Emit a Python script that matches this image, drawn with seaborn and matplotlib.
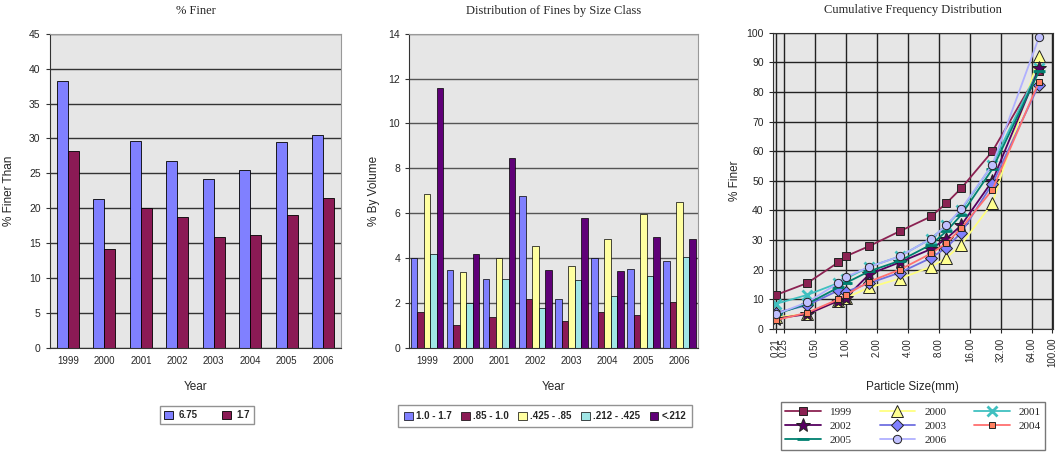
import numpy as np
import pandas as pd
import seaborn as sns
import matplotlib.pyplot as plt
from matplotlib.ticker import FixedLocator, NullLocator

# --- data ---
years = ['1999', '2000', '2001', '2002', '2003', '2004', '2005', '2006']

# % finer than 6.75 mm and 1.7 mm
finer_675 = [38.3, 21.3, 29.6, 26.8, 24.2, 25.5, 29.5, 30.5]
finer_17 = [28.2, 14.2, 20.0, 18.7, 15.9, 16.2, 19.0, 21.4]

# % by volume per size class
size_classes = ['1.0 - 1.7', '.85 - 1.0', '.425 - .85', '.212 - .425', '<.212']
vol_10_17 = [4.0, 3.47, 3.05, 6.78, 2.18, 4.02, 3.53, 3.86]
vol_085_10 = [1.58, 1.04, 1.36, 2.18, 1.2, 1.58, 1.46, 2.03]
vol_0425_085 = [6.87, 3.37, 4.02, 4.56, 3.64, 4.84, 5.96, 6.5]
vol_0212_0425 = [4.19, 2.01, 3.08, 1.76, 3.02, 2.31, 3.2, 4.07]
vol_lt0212 = [11.6, 4.19, 8.48, 3.47, 5.81, 3.43, 4.96, 4.87]

# cumulative frequency (% finer) per sieve size (mm)
sieve_mm = [0.212, 0.425, 0.85, 1.0, 1.7, 3.35, 6.75, 9.5, 13.2, 26.5, 75]
cum_1999 = [11.5, 15.5, 22.5, 24.5, 28, 33, 38, 42.5, 47.5, 60, 87]
cum_2000 = [4, 5, 9.5, 10.5, 14, 17, 21, 24, 28.5, 42.5, 92]
cum_2001 = [8.5, 11.5, 15.5, 17, 21, 24.5, 30.5, 35, 40, 55.5, 88]
cum_2002 = [3.5, 5, 9.5, 10.5, 18.5, 22.5, 27, 30.5, 35, 50, 88]
cum_2003 = [5.5, 8, 13, 12.5, 15.5, 19, 24, 27.5, 32.5, 49, 82.5]
cum_2004 = [3, 5.5, 10, 11.5, 16, 20, 25.5, 29, 34, 47, 83.5]
cum_2005 = [5, 8.5, 14, 15.5, 19.5, 23, 28.5, 33, 38.5, 54, 87]
cum_2006 = [5, 9, 15.5, 17.5, 21, 24.5, 30.5, 35, 40.5, 55.5, 98.5]

x_ticks = [0.21, 0.25, 0.5, 1, 2, 4, 8, 16, 32, 64, 100]

sns.set_style('white')
plt.rcParams['font.family'] = ['Liberation Sans', 'DejaVu Sans']

fig = plt.figure(figsize=(10.57, 4.62), dpi=100)
ax1 = fig.add_axes([0.047, 0.247, 0.276, 0.680])
ax2 = fig.add_axes([0.387, 0.247, 0.273, 0.680])
ax3 = fig.add_axes([0.731, 0.288, 0.265, 0.641])

plot_bg = '#e6e6e6'
title_font = dict(family='Liberation Serif', fontsize=9)


def style_bar_axes(ax, ymax, step, grid_color):
    ax.set_facecolor(plot_bg)
    ax.set_axisbelow(True)
    ax.set_ylim(0, ymax)
    ax.set_yticks(np.arange(0, ymax + 0.01, step))
    ax.yaxis.grid(True, color=grid_color, linewidth=1)
    ax.set_xlim(-0.5, len(years) - 0.5)
    ax.xaxis.set_minor_locator(FixedLocator(np.arange(-0.5, len(years), 1)))
    ax.tick_params(axis='x', which='major', length=0, labelsize=7, pad=6)
    ax.tick_params(axis='x', which='minor', length=3, color='#333333', direction='out')
    ax.tick_params(axis='y', length=3, labelsize=7.5, direction='out', color='#333333')
    ax.tick_params(axis='both', bottom=True, left=True)
    for side in ['top', 'right']:
        ax.spines[side].set_color('#999999')
    for side in ['left', 'bottom']:
        ax.spines[side].set_color('#333333')
    ax.set_xlabel('Year', fontsize=8.5, labelpad=11)


# --- 1. % Finer ---
df1 = pd.DataFrame({
    'Year': years * 2,
    'value': finer_675 + finer_17,
    'series': ['6.75'] * len(years) + ['1.7'] * len(years),
})
sns.barplot(data=df1, x='Year', y='value', hue='series', order=years,
            palette=['#8080ff', '#8b1a55'], width=0.6, edgecolor='black',
            linewidth=0.6, saturation=1, ax=ax1)
style_bar_axes(ax1, 45, 5, '#333333')
ax1.set_ylabel('% Finer Than', fontsize=8.5, labelpad=10)
ax1.set_title('% Finer', pad=14, **title_font)
h, l = ax1.get_legend_handles_labels()
ax1.get_legend().remove()
fig.legend(h, l, loc='center', bbox_to_anchor=(207 / 1057, 1 - 415 / 462), ncol=2,
           prop={'weight': 'bold', 'size': 7}, frameon=True, fancybox=False,
           edgecolor='#777777', handlelength=0.9, handleheight=0.9, columnspacing=2.5,
           handletextpad=0.6, borderpad=0.45)

# --- 2. Distribution of fines by size class ---
vols = [vol_10_17, vol_085_10, vol_0425_085, vol_0212_0425, vol_lt0212]
df2 = pd.DataFrame({
    'Year': years * len(size_classes),
    'value': sum(vols, []),
    'series': [c for c in size_classes for _ in years],
})
sns.barplot(data=df2, x='Year', y='value', hue='series', order=years,
            hue_order=size_classes,
            palette=['#8080ff', '#8b1a55', '#ffffa0', '#a0e6e6', '#600078'],
            width=0.9, edgecolor='black', linewidth=0.5, saturation=1, ax=ax2)
style_bar_axes(ax2, 14, 2, '#555555')
ax2.set_ylabel('% By Volume', fontsize=8.5, labelpad=6)
ax2.set_title('Distribution of Fines by Size Class', pad=14, **title_font)
h, l = ax2.get_legend_handles_labels()
ax2.get_legend().remove()
fig.legend(h, l, loc='center', bbox_to_anchor=(545 / 1057, 1 - 416 / 462), ncol=5,
           prop={'weight': 'bold', 'size': 7}, frameon=True, fancybox=False,
           edgecolor='#777777', handlelength=0.9, handleheight=0.9, columnspacing=1.0,
           handletextpad=0.3, borderpad=0.6)

# --- 3. Cumulative frequency distribution ---
ax3.set_facecolor(plot_bg)
ax3.set_axisbelow(True)
cum_series = [
    ('1999', cum_1999, '#8b2252', 's', '#8b2252', 6),
    ('2000', cum_2000, '#ffff80', '^', '#ffff90', 8),
    ('2001', cum_2001, '#40c0c0', 'x', '#40a0a0', 7),
    ('2002', cum_2002, '#560060', '*', '#560060', 10),
    ('2003', cum_2003, '#7070e0', 'D', '#8080ff', 6),
    ('2004', cum_2004, '#ff7070', 's', '#ff8060', 4),
    ('2005', cum_2005, '#008070', '_', '#005040', 9),
    ('2006', cum_2006, '#b0b0ff', 'o', '#c0c0ff', 6),
]
for name, vals, col, mk, face, ms in cum_series:
    plain = mk in ('x', '_')
    sns.lineplot(x=sieve_mm, y=vals, color=col, marker=mk, markersize=ms,
                 markerfacecolor=face, markeredgecolor=col if plain else '#222222',
                 markeredgewidth=2 if plain else 0.7,
                 linewidth=1.3, label=name, ax=ax3, sort=False)
ax3.set_xscale('log')
ax3.set_xlim(0.196, 102)
ax3.set_ylim(0, 100)
ax3.set_yticks(np.arange(0, 101, 10))
ax3.xaxis.set_major_locator(FixedLocator(x_ticks))
ax3.xaxis.set_minor_locator(NullLocator())
ax3.set_xticklabels([f'{t:.2f}' for t in x_ticks], rotation=90)
ax3.grid(True, color='#222222', linewidth=1)
ax3.tick_params(axis='x', labelsize=7, length=3, direction='out', bottom=True)
ax3.tick_params(axis='y', labelsize=7.5, length=3, direction='out', left=True)
for side in ax3.spines.values():
    side.set_color('#333333')
ax3.set_xlabel('Particle Size(mm)', fontsize=8.5, labelpad=10)
ax3.set_ylabel('% Finer', fontsize=8.5, labelpad=4)
ax3.set_title('Cumulative Frequency Distribution', pad=14, **title_font)
h, l = ax3.get_legend_handles_labels()
ax3.get_legend().remove()
order = [0, 3, 6, 1, 4, 7, 2, 5]
fig.legend([h[i] for i in order], [l[i] for i in order], loc='center',
           bbox_to_anchor=(913 / 1057, 1 - 426 / 462), ncol=3,
           prop={'family': 'Liberation Serif', 'size': 8}, frameon=True, fancybox=False,
           edgecolor='#555555', handlelength=3.2, columnspacing=2.5,
           handletextpad=0.8, borderpad=0.4, labelspacing=0.4)

fig.savefig('out.png', dpi=100)
